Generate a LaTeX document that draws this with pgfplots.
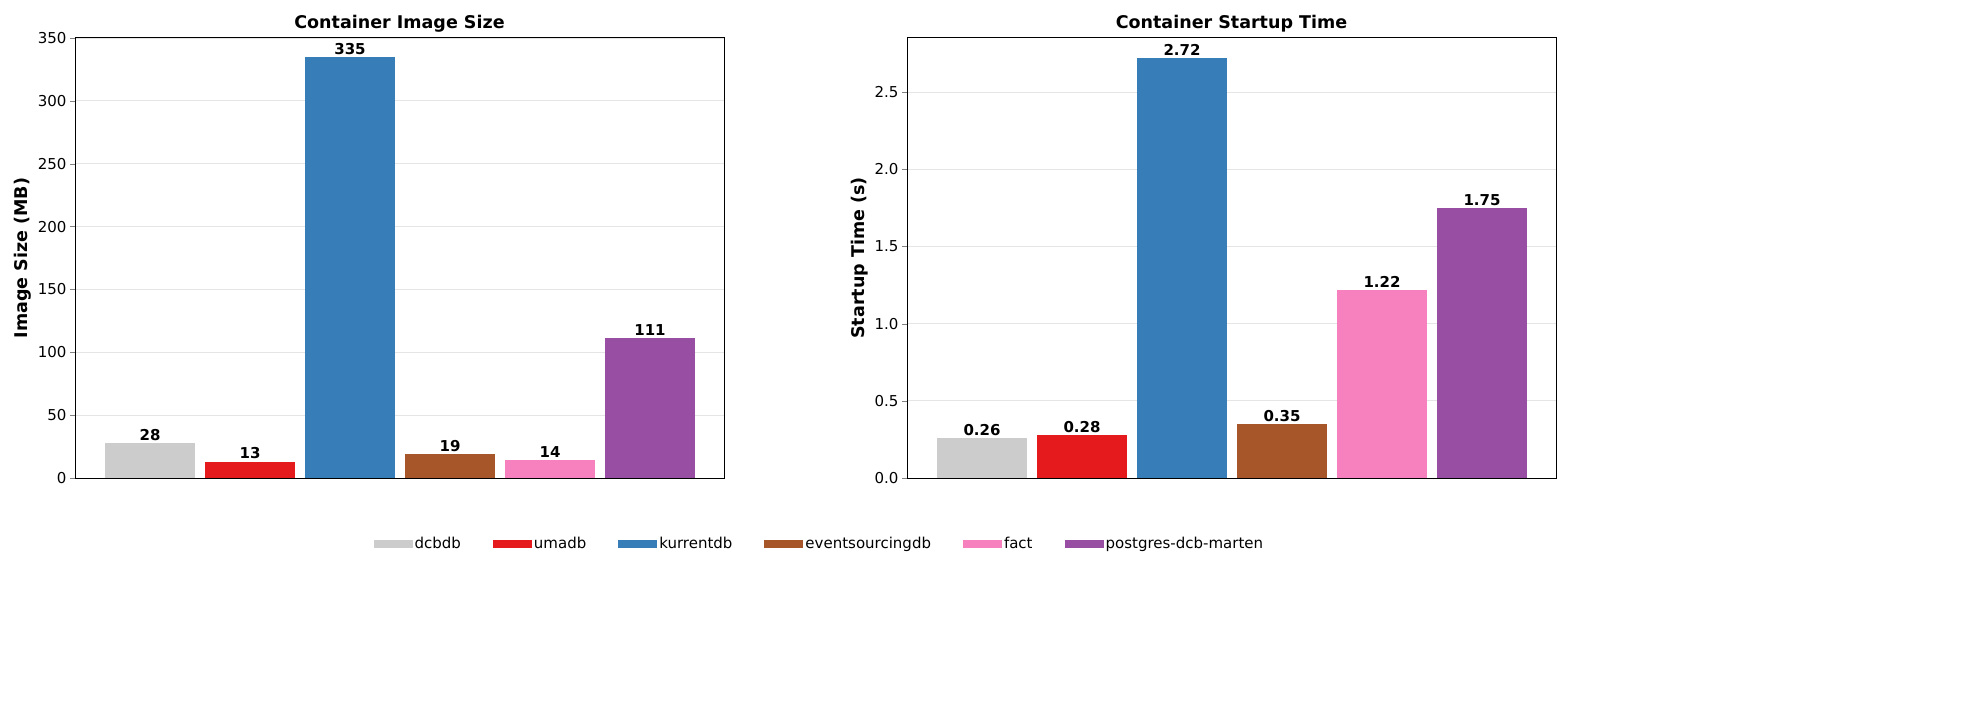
\documentclass[border=0pt]{standalone}
\usepackage{pgfplots}
\pgfplotsset{compat=1.18}
\usepackage{fontspec}
\setmainfont{DejaVu Sans}
\definecolor{c1}{HTML}{CCCCCC}
\definecolor{c2}{HTML}{E41A1C}
\definecolor{c3}{HTML}{377EB8}
\definecolor{c4}{HTML}{A65628}
\definecolor{c5}{HTML}{F781BF}
\definecolor{c6}{HTML}{984EA3}
\pgfplotsset{
  common/.style={
    scale only axis, width=649pt, height=440pt,
    ybar, bar width=0.9, bar shift=0pt,
    xmin=-0.75, xmax=5.74, ymin=0,
    xtick=\empty, ytick pos=left, tick align=outside,
    major tick length=5pt,
    ymajorgrids, grid style={gray!20, line width=0.8pt},
    axis line style={line width=1pt},
    tick label style={font=\fontsize{15}{17}\selectfont},
    /pgf/number format/assume math mode=true,
    title style={font=\fontsize{17.5}{20}\selectfont\bfseries, yshift=-4pt},
    ylabel style={font=\fontsize{17.5}{20}\selectfont\bfseries},
    nodes near coords,
    every node near coord/.append style={font=\fontsize{15}{17}\selectfont\bfseries, yshift=-1pt},
    area legend,
  }
}
\begin{document}
\begin{tikzpicture}[x=1pt,y=1pt]
\path[use as bounding box] (0,0) rectangle (1969,718);
\begin{axis}[common, at={(75pt,240pt)}, anchor=south west, ymax=350,
  title={Container Image Size}, ylabel={Image Size (MB)},
  ytick={0,50,...,350},
  nodes near coords={\pgfmathprintnumber[fixed,precision=0]{\pgfplotspointmeta}}]
\addplot[fill=c1,draw=none] coordinates {(0,28)};
\addplot[fill=c2,draw=none] coordinates {(1,13)};
\addplot[fill=c3,draw=none] coordinates {(2,335)};
\addplot[fill=c4,draw=none] coordinates {(3,19)};
\addplot[fill=c5,draw=none] coordinates {(4,14)};
\addplot[fill=c6,draw=none] coordinates {(5,111)};
\end{axis}
\begin{axis}[common, at={(907pt,240pt)}, anchor=south west, ymax=2.85,
  title={Container Startup Time}, ylabel={Startup Time (s)},
  ytick={0,0.5,...,2.5},
  yticklabel style={/pgf/number format/.cd,fixed,fixed zerofill,precision=1},
  nodes near coords={\pgfmathprintnumber[fixed,fixed zerofill,precision=2]{\pgfplotspointmeta}},
  legend columns=6,
  legend style={at={(-0.135,-0.15)}, anchor=center, draw=none,
    font=\fontsize{15}{17}\selectfont, /tikz/every even column/.append style={column sep=30pt}},
  legend image code/.code={\fill[#1] (0,-0.42em) rectangle (3.9em,0.42em);}]
\addplot[fill=c1,draw=none] coordinates {(0,0.26)};
\addplot[fill=c2,draw=none] coordinates {(1,0.28)};
\addplot[fill=c3,draw=none] coordinates {(2,2.72)};
\addplot[fill=c4,draw=none] coordinates {(3,0.35)};
\addplot[fill=c5,draw=none] coordinates {(4,1.22)};
\addplot[fill=c6,draw=none] coordinates {(5,1.75)};
\legend{dcbdb,umadb,kurrentdb,eventsourcingdb,fact,postgres-dcb-marten}
\end{axis}
\end{tikzpicture}
\end{document}
